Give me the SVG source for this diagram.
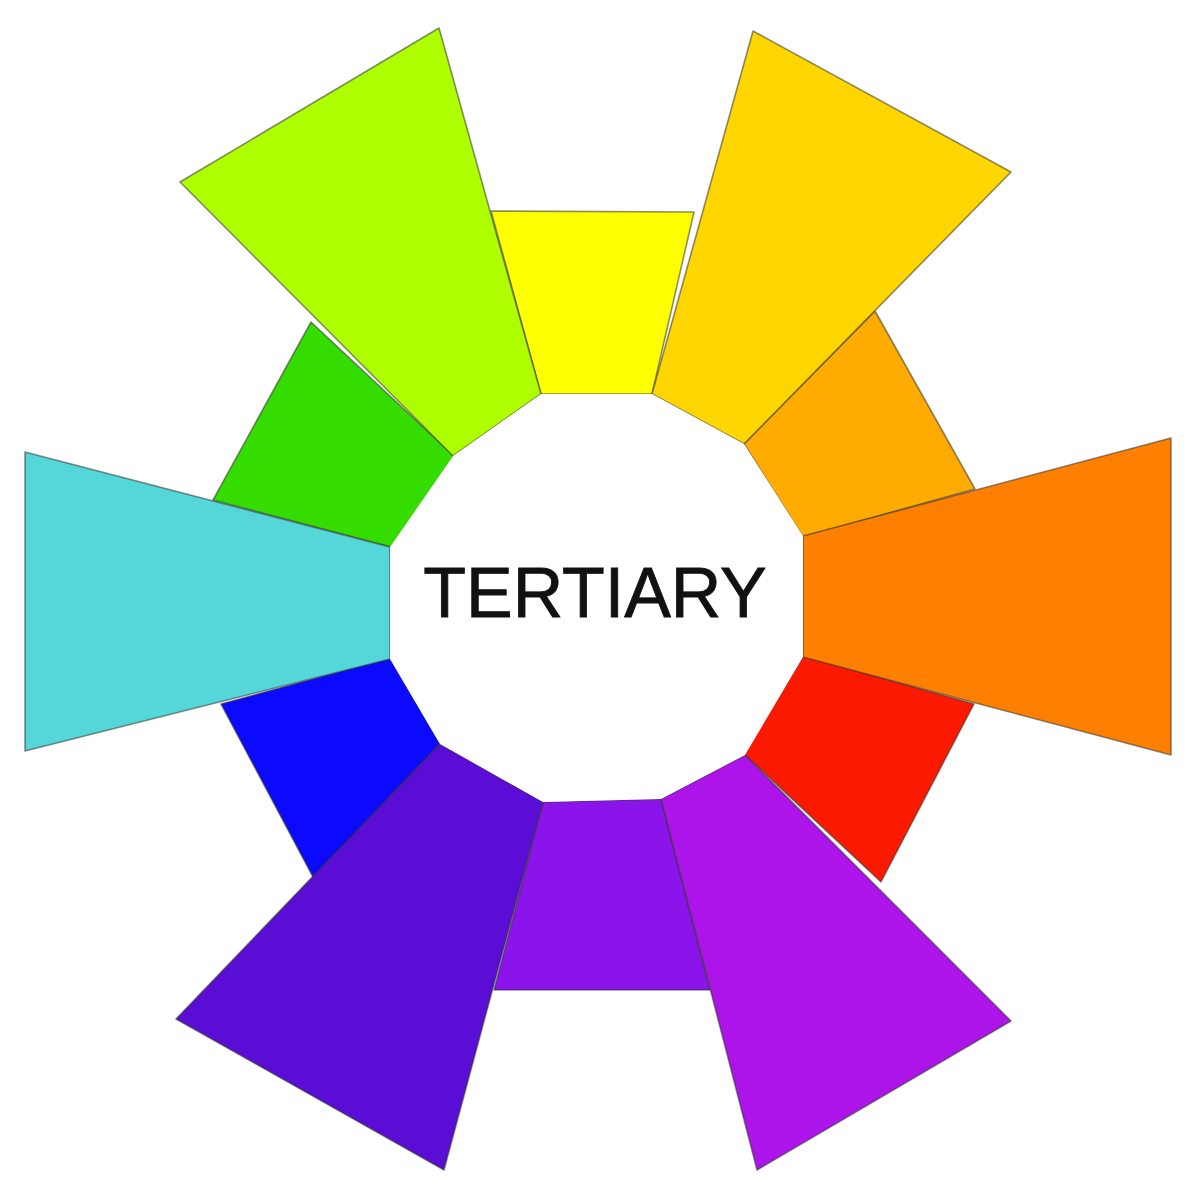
<svg xmlns="http://www.w3.org/2000/svg" width="1200" height="1200" viewBox="0 0 1200 1200">
<style>
.seg{stroke:#333;stroke-opacity:0.55;stroke-width:1.6;stroke-linejoin:round}
.lbl{font-family:"Liberation Sans",Arial,sans-serif;font-size:70px;fill:#111;stroke:#111;stroke-width:0.8}
</style>
<rect width="1200" height="1200" fill="#fff"/>
<g id="purple"><polygon class="seg" fill="#8a14ea" points="543,802 661,799 710,990 494,990"/></g>
<g id="yellow"><polygon class="seg" fill="#ffff00" points="491,211 694,212 652,394 541,394"/></g>
<g id="green"><polygon class="seg" fill="#35dc00" points="311,322 454,456 391,547 213,500"/></g>
<g id="amber"><polygon class="seg" fill="#ffab00" points="875,311 975,489 803,537 744,444"/></g>
<g id="red"><polygon class="seg" fill="#fb1a00" points="803,656 974,704 881,882 744,754"/></g>
<g id="blue"><polygon class="seg" fill="#0b0aff" points="221,704 390,658 440,744 313,877"/></g>
<g id="lime"><polygon class="seg" fill="#aeff00" points="180,182 439,28 541,394 453,456"/></g>
<g id="gold"><polygon class="seg" fill="#ffd600" points="753,31 1011,172 744,444 652,394"/></g>
<g id="orange"><polygon class="seg" fill="#ff8000" points="803,536 1171,438 1171,755 803,657"/></g>
<g id="violet"><polygon class="seg" fill="#ac14ea" points="661,799 745,755 1011,1021 757,1170"/></g>
<g id="indigo"><polygon class="seg" fill="#5a0dd4" points="440,744 543,802 444,1170 176,1019"/></g>
<g id="cyan"><polygon class="seg" fill="#55d6d8" points="25,452 390,547 390,659 25,751"/></g>
<g id="center"><polygon fill="#fff" points="541,394 652,394 744,444 803,536 803,657 745,755 661,799 543,802 440,744 390,659 390,547 453,456"/>
<text class="lbl" x="595" y="617" text-anchor="middle">TERTIARY</text></g>
</svg>
